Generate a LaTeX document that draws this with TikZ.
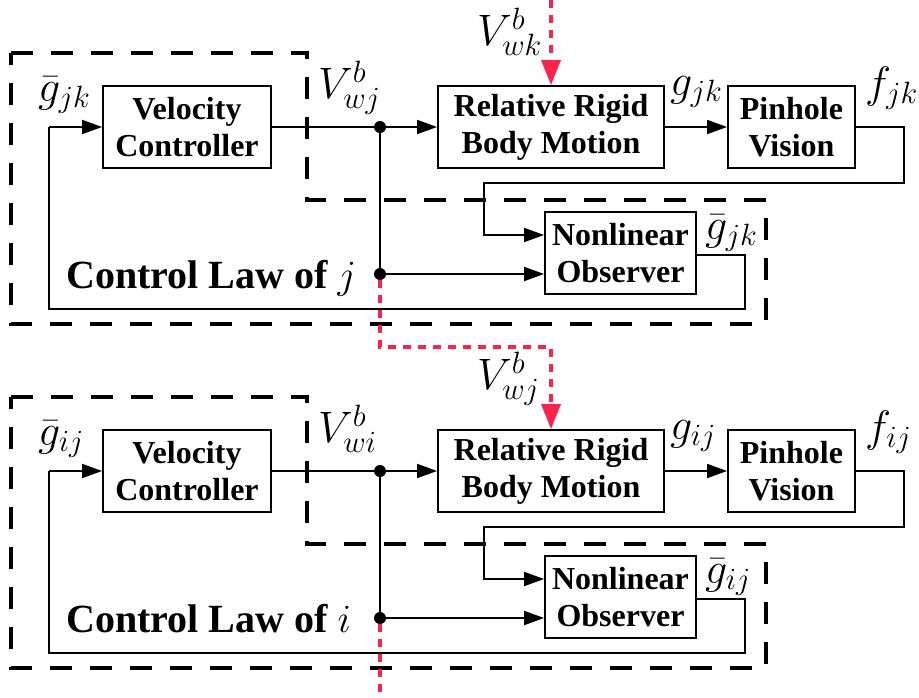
\RequirePackage{fix-cm}
\documentclass[tikz,border=0pt]{standalone}
\usepackage{fontspec}
\setmainfont{Liberation Serif}
\usetikzlibrary{arrows.meta}
\definecolor{redl}{RGB}{250,35,75}
\begin{document}
\begin{tikzpicture}[x=1pt,y=-1pt,
  blk/.style={draw, line width=1.8pt, minimum height=82pt, inner sep=0pt,
    font=\fontsize{32}{37}\selectfont\bfseries, align=center},
  conn/.style={line width=1.8pt, -{Triangle[length=20pt,width=14pt]}},
  wire/.style={line width=1.8pt},
  bound/.style={line width=3.8pt, dash pattern=on 22pt off 18pt},
  reddash/.style={draw=redl, line width=3.5pt, dash pattern=on 8pt off 7pt},
  redarr/.style={reddash, -{Triangle[length=25pt,width=19pt]}},
  lbl/.style={font=\fontsize{44}{48}\selectfont, inner sep=0pt, anchor=base west},
  title/.style={font=\fontsize{40}{44}\selectfont\bfseries, inner sep=0pt, anchor=base west},
  dot/.style={circle, fill, inner sep=0pt, minimum size=12pt}
]
\useasboundingbox (0,0) rectangle (919,697);
\foreach \o/\a/\b/\c/\L in {0/jk/wj/wk/j, 344/ij/wi/wj/i}{
\begin{scope}[shift={(0,\o)}]
  \node[blk, minimum width=168pt] (VC\L) at (187,127) {Velocity\\Controller};
  \node[blk, minimum width=226pt] (RR\L) at (551,127) {Relative Rigid\\Body Motion};
  \node[blk, minimum width=127pt] (PV\L) at (791.5,127) {Pinhole\\Vision};
  \node[blk, minimum width=151pt] (NO\L) at (620.5,253) {Nonlinear\\Observer};
  \node[dot] (D1\L) at (380,127) {};
  \node[dot] (D2\L) at (380,274) {};
  \coordinate (in\L) at (49,127);
  \coordinate (p1\L) at (904,183);
  \coordinate (p2\L) at (484,235);
  \coordinate (p3\L) at (745,255);
  \coordinate (p5\L) at (49,309);
  \draw[bound] (11,53) -- (307,53) -- (307,200) -- (766,200) -- (766,324) -- (11,324) -- cycle;
  \draw[wire] (VC\L.east) -- (D1\L.center);
  \draw[conn] (D1\L.center) -- (RR\L.west);
  \draw[wire] (D1\L.center) -- (D2\L.center);
  \draw[conn] (D2\L.center) -- (NO\L.west |- D2\L);
  \draw[conn] (RR\L.east) -- (PV\L.west);
  \draw[conn] (in\L) -- (VC\L.west);
  \draw[conn] (PV\L.east) -| (p1\L) -| (p2\L) -- (NO\L.west |- p2\L);
  \draw[wire] (NO\L.east |- p3\L) -- (p3\L) |- (p5\L) -- (in\L);
  \node[lbl] (l1\L) at (38,101) {$\bar g_{\a}$};
  \node[lbl] (l2\L) at (318,98) {$V^b_{\b}$};
  \node[lbl] (l3\L) at (477,45) {$V^b_{\c}$};
  \node[lbl] (l4\L) at (670,95) {$g_{\a}$};
  \node[lbl] (l5\L) at (865,97) {$f_{\a}$};
  \node[lbl] (l6\L) at (705,239) {$\bar g_{\a}$};
  \node[title] (t\L) at (66,288) {Control Law of $\L$};
\end{scope}
}
\coordinate (rtop) at (551,0);
\coordinate (rmid) at (380,347);
\coordinate (rbot) at (380,697);
\draw[redarr] (rtop) -- (RRj.north);
\draw[redarr] (D2j.south) -- (rmid) -| (RRi.north);
\draw[reddash] (D2i.south) -- (rbot);
\end{tikzpicture}
\end{document}
